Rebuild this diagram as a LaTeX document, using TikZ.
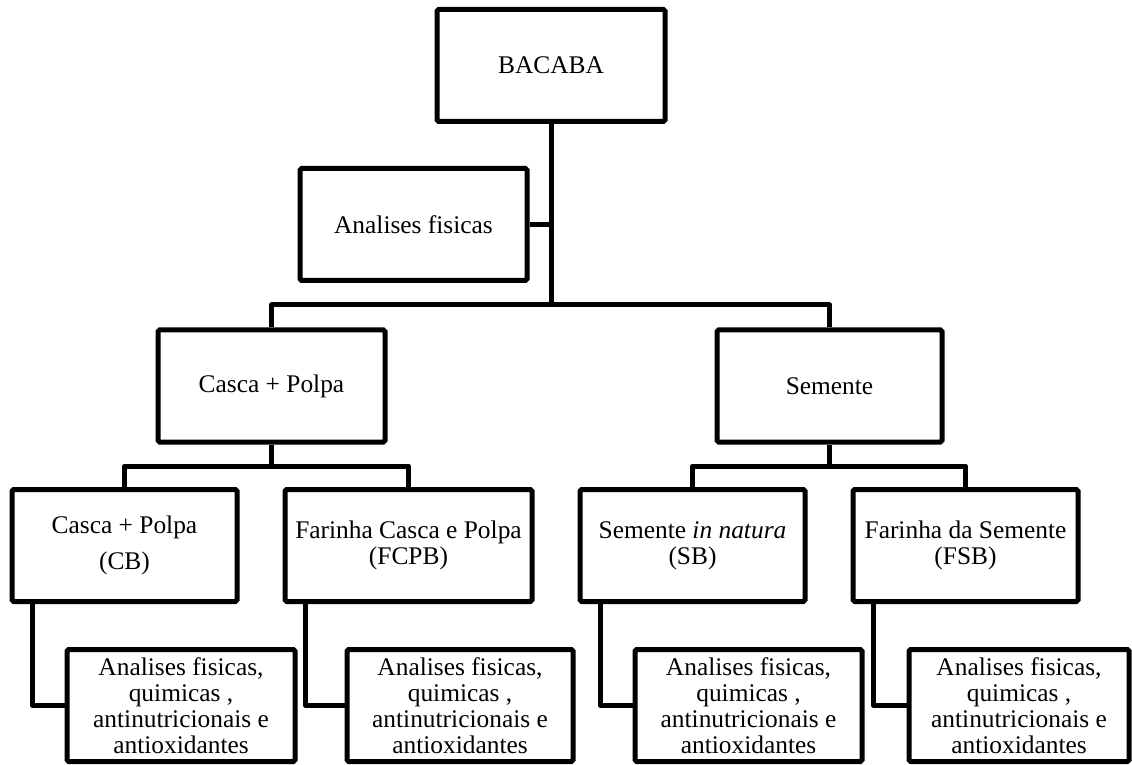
\documentclass[tikz,border=0pt]{standalone}
\usepackage{fontspec}
\setmainfont{Liberation Serif}
\usetikzlibrary{positioning,calc}
\tikzset{
  box/.style  = {rectangle, rounded corners=0.8pt, draw=black, line width=2.5pt,
                 fill=white, align=center, inner sep=2pt,
                 minimum width=#1, minimum height=56pt,
                 font=\fontsize{12.7}{13}\selectfont},
  link/.style = {line width=2.5pt, draw=black, line join=round},
}

\begin{document}
\begin{tikzpicture}[x=0.5pt, y=-0.5pt]
  \useasboundingbox (0,0) rectangle (1132,765);

  % top of the tree
  \node[box=114pt]   (bacaba) at (551,65.5)   {BACABA};
  \node[box=113.5pt] (fis)    at (413.5,224.5) {Analises fisicas};
  \node[box=113.5pt] (casca)  at (271.5,386)  {Casca + Polpa};
  \node[box=112.5pt] (sem)    at (829.5,386)  {Semente};

  % products
  \node[box=112.5pt] (cb)   at (124.5,545.5) {Casca + Polpa\\[5pt] (CB)};
  \node[box=123.5pt] (fcpb) at (408.5,545.5) {Farinha Casca e Polpa\\ (FCPB)};
  \node[box=112.5pt] (sb)   at (692.5,545.5) {Semente \textit{in natura}\\ (SB)};
  \node[box=112.5pt] (fsb)  at (965.5,545.5) {Farinha da Semente\\ (FSB)};

  % analyses
  \node[box=114pt]   (cbA)   at (181,705.5)    {Analises fisicas,\\ quimicas ,\\ antinutricionais e\\ antioxidantes};
  \node[box=113pt]   (fcpbA) at (460,705.5)    {Analises fisicas,\\ quimicas ,\\ antinutricionais e\\ antioxidantes};
  \node[box=113.5pt] (sbA)   at (748.5,705.5)  {Analises fisicas,\\ quimicas ,\\ antinutricionais e\\ antioxidantes};
  \node[box=110pt]   (fsbA)  at (1019,705.5)   {Analises fisicas,\\ quimicas ,\\ antinutricionais e\\ antioxidantes};

  \coordinate (split) at (551,305);
  \coordinate (cj)    at (271.5,466);
  \coordinate (sj)    at (829.5,466);

  \draw[link] (bacaba.south) -- (split);
  \draw[link] (fis.east) -- (fis.east -| split);
  \draw[link] (casca.north) |- (split) -| (sem.north);

  \draw[link] (casca.south) -- (cj);
  \draw[link] (cb.north) |- (cj) -| (fcpb.north);
  \draw[link] (sem.south) -- (sj);
  \draw[link] (sb.north) |- (sj) -| (fsb.north);

  \foreach \up/\low in {cb/cbA, fcpb/fcpbA, sb/sbA, fsb/fsbA}
    \draw[link] ($(\up.south west)+(23,0)$) |- (\low.west);
\end{tikzpicture}
\end{document}
